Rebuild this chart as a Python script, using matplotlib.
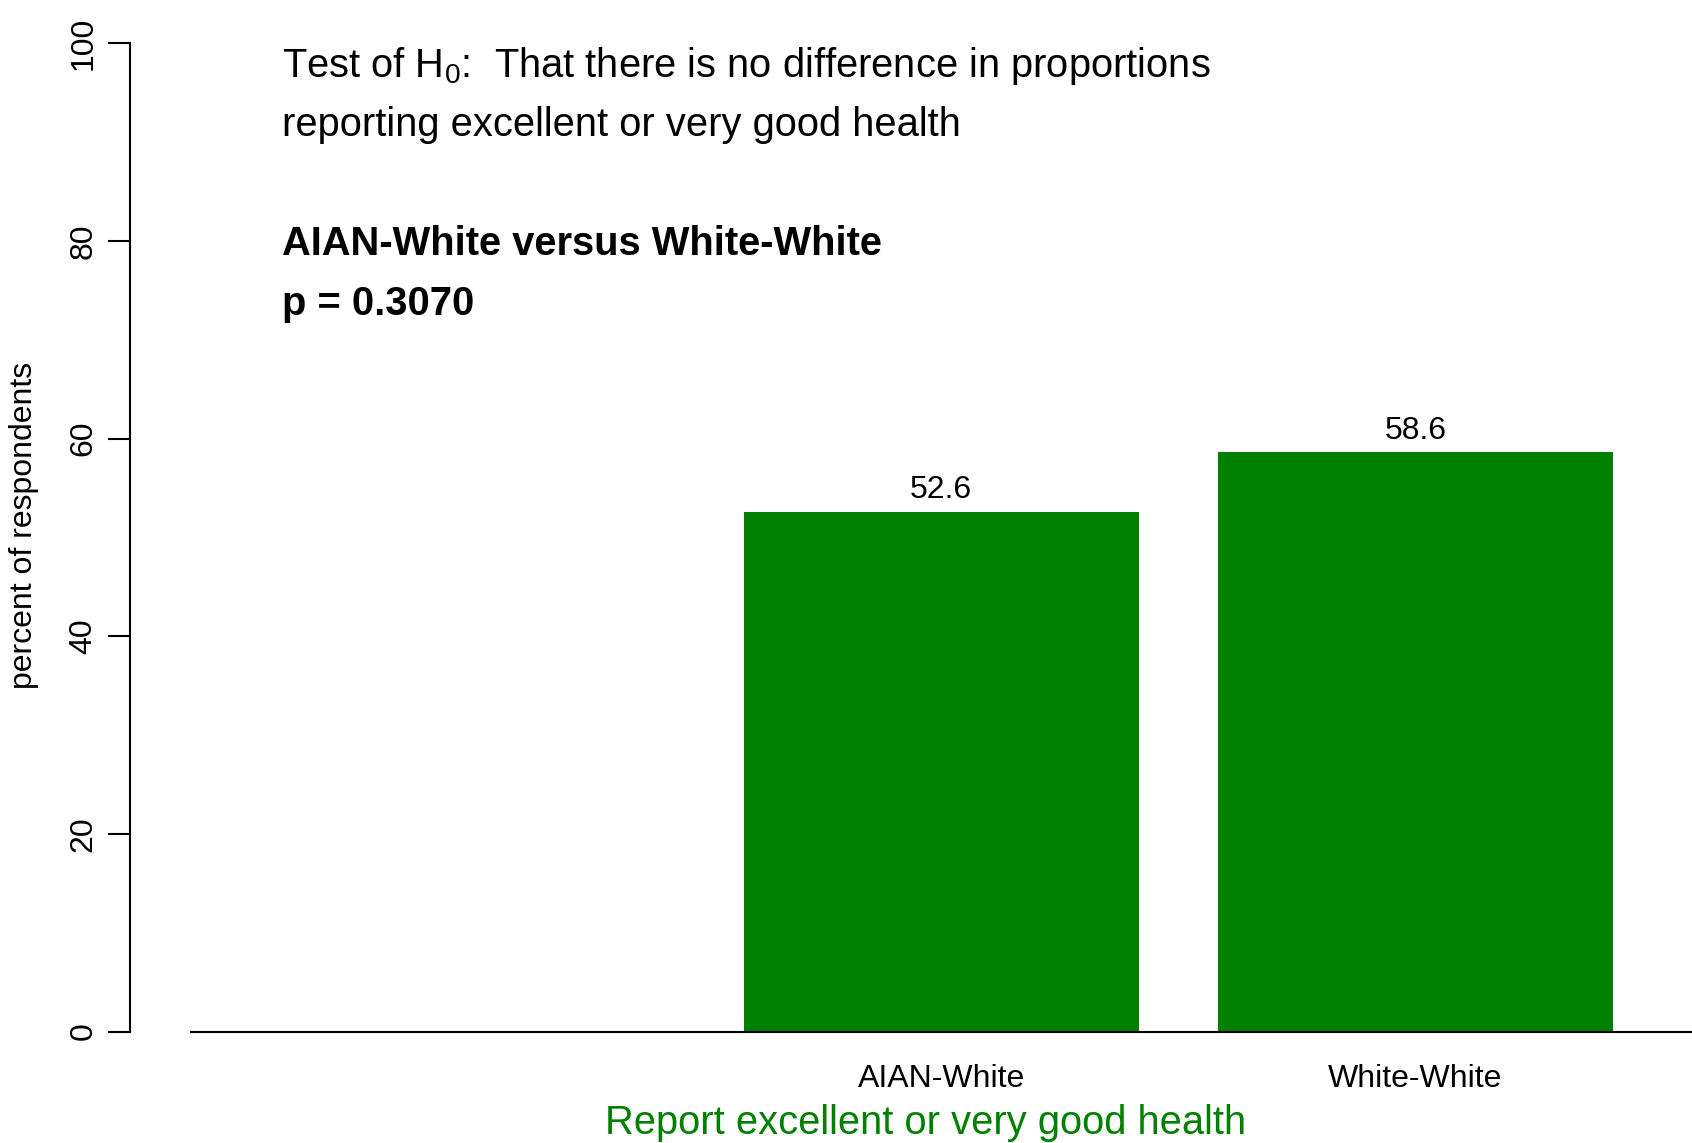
#!/usr/bin/env python3

# Proportion reporting excellent / very good health, R barplot look
import numpy as np
import matplotlib
matplotlib.use('Agg')
import matplotlib.pyplot as plt

plt.rcParams['font.family'] = ['Liberation Sans', 'DejaVu Sans']
plt.rcParams['mathtext.fontset'] = 'custom'
plt.rcParams['mathtext.rm'] = 'Liberation Sans'
plt.rcParams['mathtext.default'] = 'regular'

# data
groups = ['AIAN-White', 'White-White']
pct = [52.6, 58.6]
yticks = [0, 20, 40, 60, 80, 100]
title_lines = [r'Test of H$_0$:  That there is no difference in proportions',
               'reporting excellent or very good health']
test_lines = ['AIAN-White versus White-White', 'p = 0.3070']
xlab = 'Report excellent or very good health'
ylab = 'percent of respondents'

green = '#008000'
big = 28.7
small = 23

fig = plt.figure(figsize=(16.92, 11.43), dpi=100)
ax = fig.add_axes([190.5/1692, 1 - 1031.6/1143, 1 - 190.5/1692, (1031.6 - 43.2)/1143])

# R barplot spacing: width 1, space 0.2, first slot left empty
xpos = 0.7 + 1.2*np.arange(1, len(groups) + 1)
ax.bar(xpos, pct, width=1.0, color=green, edgecolor='none')
ax.axhline(0, color='black', lw=1.5, clip_on=False)

for x, v in zip(xpos, pct):
    ax.text(x, v + 2.2, '%.1f' % v, ha='center', va='center', fontsize=small)
for x, g in zip(xpos, groups):
    ax.text(x, -4.75, g, ha='center', va='center', fontsize=small)

ax.text(1.86, -9.2, xlab, ha='center', va='center', fontsize=big, color=green, clip_on=False)

# annotation text
ax.text(0.232, 97.7, title_lines[0], ha='left', va='center', fontsize=big)
ax.text(0.232, 91.7, title_lines[1], ha='left', va='center', fontsize=big)
ax.text(0.232, 79.7, test_lines[0], ha='left', va='center', fontsize=big, fontweight='bold')
ax.text(0.232, 73.6, test_lines[1], ha='left', va='center', fontsize=big, fontweight='bold')

ax.set_xlim(0, 3.8)
ax.set_ylim(0, 100)
for s in ['top', 'right', 'bottom']:
    ax.spines[s].set_visible(False)
ax.spines['left'].set_position(('outward', 61*0.72))
ax.spines['left'].set_bounds(0, 100)
ax.spines['left'].set_linewidth(1.5)
ax.set_xticks([])
ax.set_yticks(yticks)
ax.set_yticklabels([str(t) for t in yticks], rotation=90, va='center', fontsize=small)
ax.tick_params(axis='y', length=15.5, width=1.5, pad=7)

fig.text(24/1692, 1 - 525/1143, ylab, rotation=90, ha='center', va='center', fontsize=small)

plt.savefig('out.png', dpi=100)
